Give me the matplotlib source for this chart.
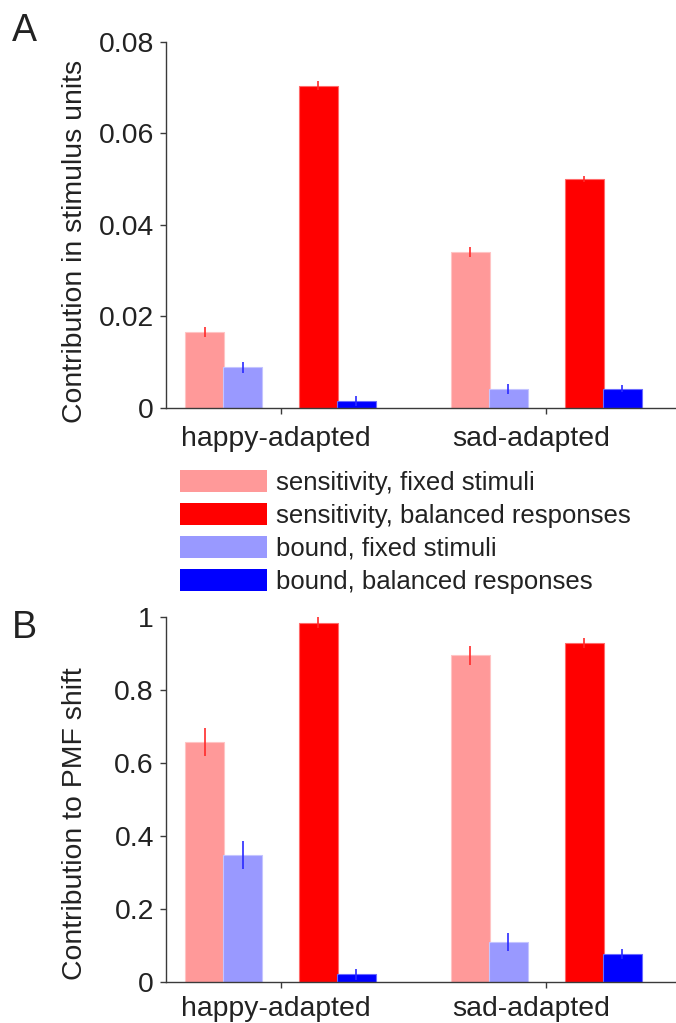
import numpy as np
import matplotlib
matplotlib.use("Agg")
from matplotlib import pyplot as plt
from matplotlib.patches import Patch

plt.rcParams['font.family'] = ['Liberation Sans', 'DejaVu Sans']

# data
groups = ['happy-adapted', 'sad-adapted']
series = ['sensitivity, fixed stimuli', 'sensitivity, balanced responses',
          'bound, fixed stimuli', 'bound, balanced responses']

# panel A: contribution in stimulus units
a_sens_fixed = [0.0165, 0.0340]
a_sens_bal = [0.0705, 0.0500]
a_bound_fixed = [0.0088, 0.0041]
a_bound_bal = [0.0015, 0.0041]
a_sens_fixed_err = [0.0011, 0.00105]
a_sens_bal_err = [0.0009, 0.0007]
a_bound_fixed_err = [0.00124, 0.0011]
a_bound_bal_err = [0.0011, 0.00075]
a_ticks = [0, 0.02, 0.04, 0.06, 0.08]
a_ticklabels = ['0', '0.02', '0.04', '0.06', '0.08']

# panel B: contribution to PMF shift
b_sens_fixed = [0.657, 0.895]
b_sens_bal = [0.984, 0.928]
b_bound_fixed = [0.347, 0.1095]
b_bound_bal = [0.021, 0.077]
b_sens_fixed_err = [0.039, 0.026]
b_sens_bal_err = [0.014, 0.014]
b_bound_fixed_err = [0.039, 0.026]
b_bound_bal_err = [0.0145, 0.014]
b_ticks = [0, 0.2, 0.4, 0.6, 0.8, 1.0]
b_ticklabels = ['0', '0.2', '0.4', '0.6', '0.8', '1']

# styles
bar_colors = ['#ff9999', '#ff0000', '#9999ff', '#0000ff']
edge_colors = ['#ffc4c4', '#ff6a6a', '#c4c4ff', '#6a6aff']
err_colors = ['#ff2a2a', '#ff2a2a', '#2a2aff', '#2a2aff']
offsets = [-2 / 7, 1 / 7, -1 / 7, 2 / 7]
draw_order = [0, 2, 1, 3]
bw = 0.148
text_col = '#222222'
spine_col = '#3a3a3a'
fs = 20.4

W, H = 676, 1023
fig = plt.figure(figsize=(W / 100, H / 100), dpi=100)


def panel(rect, vals, errs, ticks, ticklabels, ylabel, ylab_y, xlab_off, xlab_y):
    ax = fig.add_axes(rect)
    x = np.arange(1, len(groups) + 1)
    for k in draw_order:
        ax.bar(x + offsets[k], vals[k], width=bw, color=bar_colors[k],
               edgecolor=edge_colors[k], linewidth=0.8, label=series[k], zorder=2)
        ax.errorbar(x + offsets[k], vals[k], yerr=errs[k], fmt='none',
                    ecolor=err_colors[k], elinewidth=1.2, capsize=0, zorder=3)
    ax.set_xlim(0.568, 2.488)
    ax.set_ylim(ticks[0], ticks[-1])
    ax.set_yticks(ticks)
    ax.set_yticklabels(ticklabels)
    ax.set_xticks(x)
    ax.set_xticklabels([])
    # group names sit slightly left of the ticks, as in the original
    for xi, g, off in zip(x, groups, xlab_off):
        ax.text(xi + off, xlab_y, g, transform=ax.get_xaxis_transform(),
                ha='center', va='baseline', fontsize=fs, color=text_col)
    for s in ['top', 'right']:
        ax.spines[s].set_visible(False)
    for s in ['left', 'bottom']:
        ax.spines[s].set_color(spine_col)
        ax.spines[s].set_linewidth(1.0)
    ax.tick_params(axis='both', direction='out', length=4.5, width=1.0,
                   color=spine_col, labelsize=fs, labelcolor=text_col, pad=4)
    ax.set_ylabel(ylabel, fontsize=fs, color=text_col)
    ax.yaxis.set_label_coords(-0.1528, ylab_y)
    return ax


axA = panel([165.7 / W, 1 - 407.6 / H, 1 - 165.7 / W, 365.5 / H],
            [a_sens_fixed, a_sens_bal, a_bound_fixed, a_bound_bal],
            [a_sens_fixed_err, a_sens_bal_err, a_bound_fixed_err, a_bound_bal_err],
            a_ticks, a_ticklabels, 'Contribution in stimulus units', 0.454,
            [-0.016, -0.058], -38.4 / 365.5)
axB = panel([165.7 / W, 1 - 982 / H, 1 - 165.7 / W, 365.3 / H],
            [b_sens_fixed, b_sens_bal, b_bound_fixed, b_bound_bal],
            [b_sens_fixed_err, b_sens_bal_err, b_bound_fixed_err, b_bound_bal_err],
            b_ticks, b_ticklabels, 'Contribution to PMF shift', 0.434,
            [-0.016, -0.058], -34.0 / 365.3)

leg_handles = [Patch(facecolor=bar_colors[k], edgecolor='none') for k in range(4)]
fig.legend(leg_handles, series, loc='upper left',
           bbox_to_anchor=(180 / W, 1 - 470 / H), bbox_transform=fig.transFigure,
           frameon=False, fontsize=18.5, handlelength=3.39, handleheight=0.93,
           handletextpad=0.34, labelspacing=0.32, borderpad=0, borderaxespad=0,
           labelcolor=text_col)

fig.text(12 / W, 1 - 41 / H, 'A', fontsize=27, color=text_col, ha='left', va='baseline')
fig.text(12 / W, 1 - 638 / H, 'B', fontsize=27, color=text_col, ha='left', va='baseline')

fig.savefig('out.png', dpi=100)
